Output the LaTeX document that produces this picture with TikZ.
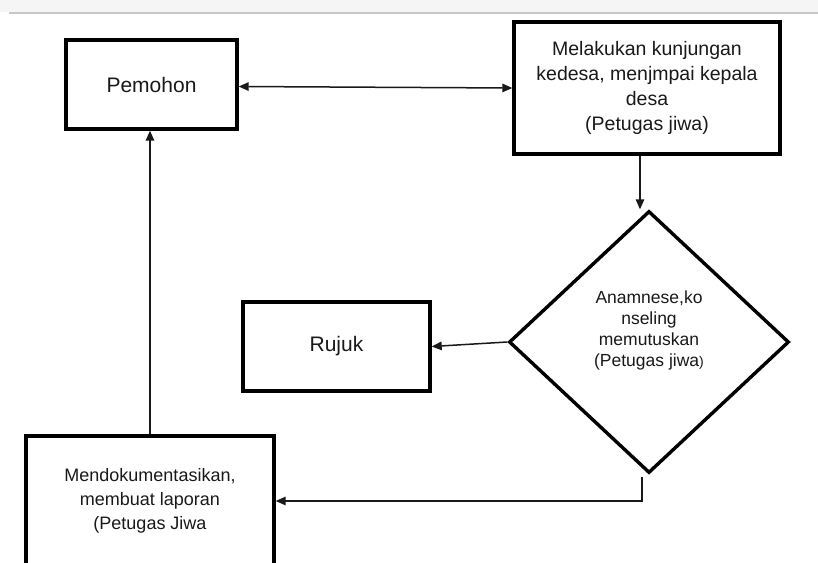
\documentclass[tikz,border=0pt]{standalone}
\usepackage{fontspec}
\setmainfont{Liberation Sans}
\usetikzlibrary{shapes.geometric,arrows.meta}
\begin{document}
\begin{tikzpicture}[x=1pt,y=-1pt,
  box/.style={draw=black, line width=3.4pt, rectangle, inner sep=0pt, align=center, text=black!90},
  conn/.style={draw=black!90, line width=1.5pt, -{Triangle[length=10pt,width=8.5pt]}},
  dconn/.style={draw=black!90, line width=1.5pt, {Triangle[length=10pt,width=8.5pt]}-{Triangle[length=10pt,width=8.5pt]}}]
\clip (0,0) rectangle (818,562);
\fill[white] (0,0) rectangle (818,562);
\fill[black!4] (0,0) rectangle (818,12);
\draw[black!22, line width=1.2pt] (9,13) -- (818,13);

\node[box, minimum width=171, minimum height=89, font=\fontsize{21}{25}\selectfont] (p) at (151.5,84.5) {Pemohon};
\node[box, minimum width=266, minimum height=132, font=\fontsize{19.5}{25}\selectfont] (m) at (647,88)
  {Melakukan kunjungan\\kedesa, menjmpai kepala\\desa\\(Petugas jiwa)};
\node[draw=black, line width=3.4pt, diamond, aspect=1.07, inner sep=0pt, minimum width=280, minimum height=262,
  label={[align=center, text=black!90, font=\fontsize{17.5}{21}\selectfont, yshift=12]center:Anamnese,ko\\nseling\\memutuskan\\(Petugas jiwa{\fontsize{14}{21}\selectfont )}}] (d) at (649,342) {};
\node[box, minimum width=187, minimum height=89, font=\fontsize{21}{25}\selectfont] (r) at (336.5,346.5) {Rujuk};
\node[box, minimum width=248, minimum height=130, font=\fontsize{18}{24}\selectfont] (k) at (150,501)
  {Mendokumentasikan,\\membuat laporan\\(Petugas Jiwa};

\draw[dconn] ([yshift=-2]p.east) -- (m.west);
\draw[conn] ([xshift=-7]m.south) -- ([xshift=-7]m.south |- d.north);
\draw[conn] (d.west) -- (r.east);
\draw[conn] ([xshift=-7,yshift=-2]d.south) |- (k.east);
\draw[conn] (k.north) -- (k.north |- p.south);
\end{tikzpicture}
\end{document}
